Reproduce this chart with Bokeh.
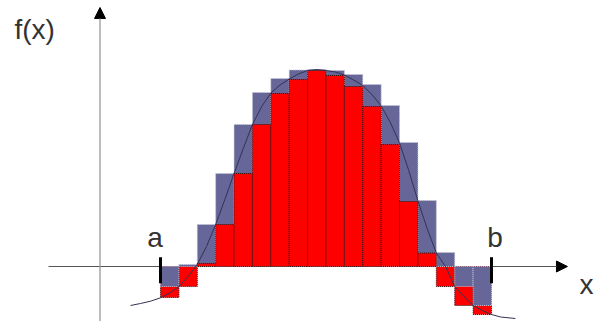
import numpy as np
from bokeh.plotting import figure
from bokeh.models import Range1d, Arrow, NormalHead
from bokeh.core.properties import value
from bokeh.embed import file_html
from bokeh.resources import INLINE

# ---- data ----
A, B, N = 0.0, 18.0, 18          # interval [a, b] split into 18 strips
upper = [-0.20, 0.02, 0.42, 0.93, 1.42, 1.74, 1.88, 1.965, 1.97,
         1.96, 1.92, 1.82, 1.61, 1.24, 0.66, 0.14, -0.20, -0.39]
lower = [-0.31, -0.20, 0.03, 0.42, 0.93, 1.42, 1.73, 1.87, 1.96,
         1.91, 1.80, 1.60, 1.22, 0.65, 0.135, -0.20, -0.39, -0.48]
curve_x = [-1.63, -1.09, -0.54, 0.0, 0.5, 1.0, 1.5, 2.0, 2.5, 3.0, 3.5, 4.0,
           4.5, 5.0, 5.5, 6.0, 6.5, 7.0, 7.5, 8.0, 8.5, 9.0, 9.5, 10.0,
           10.5, 11.0, 11.5, 12.0, 12.5, 13.0, 13.5, 14.0, 14.5, 15.0,
           15.5, 16.0, 16.5, 17.0, 17.5, 18.0, 18.5, 19.3]
curve_y = [-0.39, -0.37, -0.347, -0.313, -0.265, -0.20, -0.10, 0.02, 0.20,
           0.42, 0.67, 0.93, 1.18, 1.42, 1.60, 1.735, 1.815, 1.875, 1.925,
           1.96, 1.97, 1.96, 1.945, 1.915, 1.865, 1.81, 1.72, 1.605, 1.44,
           1.235, 0.96, 0.655, 0.38, 0.135, 0.0, -0.20, -0.30, -0.39,
           -0.44, -0.48, -0.505, -0.52]
labels = ["a", "b", "x", "f(x)"]

# axis extents
X_AXIS = (-6.09, 22.13)
Y_AXIS_X = -3.29
Y_AXIS = (-0.55, 2.59)

# ---- figure ----
p = figure(width=594, height=321, x_range=Range1d(-8.701, 23.601),
           y_range=Range1d(-0.55, 2.66), min_border=0,
           toolbar_location=None, output_backend="svg",
           x_axis_location=None, y_axis_location=None,
           margin=0)
p.grid.visible = False
p.outline_line_color = None
p.background_fill_color = "white"
p.border_fill_color = "white"

# coordinate axes with arrow heads
p.add_layout(Arrow(end=NormalHead(size=11, fill_color="black", line_color="black", line_width=1),
                   x_start=X_AXIS[0], y_start=0, x_end=X_AXIS[1], y_end=0,
                   line_color="#555555", line_width=1, level="underlay"))
p.add_layout(Arrow(end=NormalHead(size=11, fill_color="black", line_color="black", line_width=1),
                   x_start=Y_AXIS_X, y_start=Y_AXIS[0], x_end=Y_AXIS_X, y_end=Y_AXIS[1],
                   line_color="#999999", line_width=1.3, level="underlay"))

edges = np.linspace(A, B, N + 1)
centers = (edges[:-1] + edges[1:]) / 2
width = edges[1] - edges[0]
up = np.array(upper)
lo = np.array(lower)
neg = lo < 0

red_kw = dict(fill_color="#ff0000", line_color="#331111", line_dash="1 1", line_width=1)
blue_kw = dict(fill_color="#666699", line_color="#c8c8d8", line_dash="1 1", line_width=1)

# red strips below zero first, then blue upper-sum strips, then red positive strips
p.vbar(x=centers[neg], width=width, bottom=0, top=lo[neg], **red_kw)
p.vbar(x=centers, width=width, bottom=0, top=up, **blue_kw)
p.vbar(x=centers[~neg], width=width, bottom=0, top=lo[~neg], **red_kw)

# the function
p.line(curve_x, curve_y, line_color="#333355", line_width=1)

# a / b tick marks
p.segment(x0=[A, B], y0=[0.093, 0.093], x1=[A, B], y1=[-0.167, -0.167],
          line_color="black", line_width=3)

font = value("Liberation Sans")
p.text(x=[A - 0.30, B + 0.19, 23.17], y=[0.295, 0.293, -0.18], text=labels[:3],
       text_font=font, text_font_size="28px", text_color="#333333",
       text_align="center", text_baseline="alphabetic")
p.text(x=[-7.94], y=[2.375], text=labels[3:], text_font=font, text_font_size="28px",
       text_color="#333333", text_align="left", text_baseline="alphabetic")

open("out.html", "w").write(file_html(p, INLINE))
